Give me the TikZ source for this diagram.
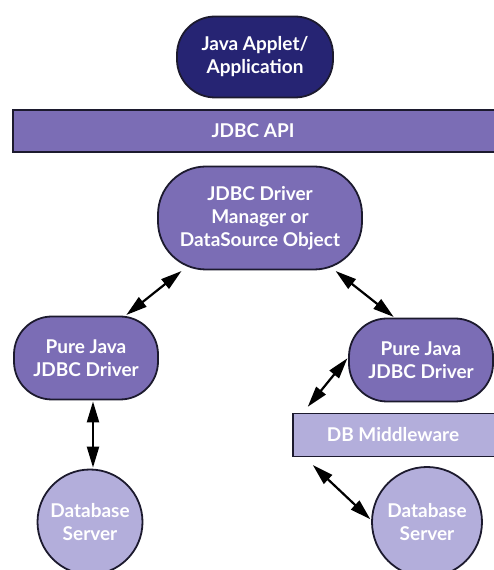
\documentclass[tikz,border=0pt]{standalone}
\usepackage{fontspec}
\setmainfont{Lato}
\usepackage{xcolor}
\usepackage{tikz}
\usetikzlibrary{arrows.meta}

\definecolor{navy}{HTML}{262473}
\definecolor{midpurple}{HTML}{7B6DB5}
\definecolor{lightpurple}{HTML}{B3AEDB}
\definecolor{edge}{HTML}{1C1A2E}

\tikzset{bigtip/.tip={Triangle[length=21pt,width=12pt]}}

\begin{document}
\begin{tikzpicture}[x=1pt, y=1pt,
  every node/.style={draw=edge, line width=1.8pt, text=white, align=center,
    font=\fontsize{19}{23}\selectfont\bfseries, inner sep=1pt},
  app/.style={fill=navy, rounded corners=38pt, minimum width=156pt, minimum height=81pt},
  api/.style={fill=midpurple, minimum width=#1, minimum height=42pt},
  manager/.style={fill=midpurple, rounded corners=48pt, minimum width=204pt, minimum height=103pt},
  driver/.style={fill=midpurple, rounded corners=38pt, minimum width=144pt, minimum height=83pt},
  middle/.style={fill=lightpurple, minimum width=#1, minimum height=43pt},
  server/.style={fill=lightpurple, circle, minimum size=#1},
  link/.style={bigtip-bigtip, line width=2.2pt, black, shorten <=1pt, shorten >=1pt}
]
\useasboundingbox (0,0) rectangle (493,570);

\node[app] (app) at (255,513) {Java Applet/\\Application};
\node[api=486pt] (api) at (256,439) {};
\node at (253,439) [draw=none] {JDBC API};
\node[manager] (mgr) at (260,352) {JDBC Driver\\Manager or\\DataSource Object};

\node[driver] (ldrv) at (86,212) {Pure Java\\JDBC Driver};
\node[driver] (rdrv) at (421,210) {Pure Java\\JDBC Driver};
\node[middle=206pt] (mw) at (396,135) {};
\node at (393,135) [draw=none] {DB Middleware};

\node[server=105pt] (ldb) at (90,48) {Database\\Server};
\node[server=110pt] (rdb) at (427,48) {Database\\Server};

\draw[link] (mgr.214) -- (ldrv.47);
\draw[link] (mgr.325) -- (rdrv.122);
\draw[link] ([xshift=7pt]ldrv.south) -- ([xshift=3pt]ldb.north);
\draw[link] (rdrv.178) -- ([xshift=15pt,yshift=5pt]mw.north west);
\draw[link] ([xshift=20pt,yshift=-7pt]mw.south west) -- (rdb.178);
\end{tikzpicture}
\end{document}
